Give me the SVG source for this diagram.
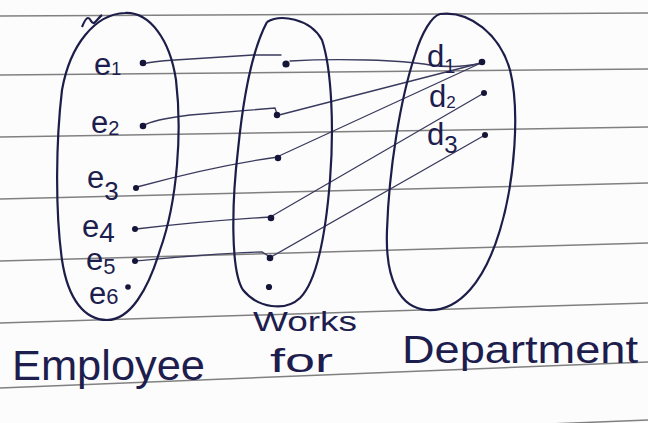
<svg xmlns="http://www.w3.org/2000/svg" width="648" height="423" viewBox="0 0 648 423">
<style>
.rule{stroke:#808080;stroke-width:1.5;fill:none}
.oval{stroke:#1d1d4a;stroke-width:2.2;fill:none;stroke-linejoin:round}
.edge{stroke:#3a3a5e;stroke-width:1.3;fill:none;stroke-linecap:round}
.dot{fill:#15153a}
.lbl{font-family:"Liberation Sans",Arial,sans-serif;fill:#1d1d4e;font-size:31px}
.ttl{font-family:"Liberation Sans",Arial,sans-serif;fill:#1d1d4e}
</style>
<rect width="648" height="423" fill="#fcfcfc"/>
<g id="paper">
<line class="rule" x1="0" y1="16" x2="648" y2="13"/>
<line class="rule" x1="0" y1="75" x2="648" y2="69"/>
<line class="rule" x1="0" y1="137" x2="648" y2="127"/>
<line class="rule" x1="0" y1="199" x2="648" y2="183"/>
<line class="rule" x1="0" y1="261" x2="648" y2="243"/>
<line class="rule" x1="0" y1="323" x2="648" y2="303"/>
<line class="rule" x1="0" y1="388" x2="648" y2="362"/>
<line class="rule" x1="400" y1="430" x2="648" y2="420"/>
</g>
<g id="connectors">
<path class="edge" d="M143 64 C150 62 160 61 175 60 L253 55 L281 55"/>
<path class="edge" d="M290 61 C340 58 400 60 430 65 C450 68 470 66 481 63"/>
<path class="edge" d="M143 126 C150 121 165 118 190 115 L275 108 L277 114"/>
<path class="edge" d="M279 115 L481 63"/>
<path class="edge" d="M137 187 C170 178 220 165 278 157"/>
<path class="edge" d="M279 156 L481 63"/>
<path class="edge" d="M136 229 C170 225 220 220 271 217"/>
<path class="edge" d="M272 216 L484 93"/>
<path class="edge" d="M136 261 C170 258 230 252 262 252 L270 257"/>
<path class="edge" d="M271 257 L485 135"/>
</g>
<g id="employee">
<path class="oval" d="M125 13 C150 12 170 40 176 80 C182 130 178 200 160 250 C148 290 130 320 107 320 C85 320 68 300 62 260 C55 210 56 140 62 90 C70 45 95 14 125 13"/>
<path class="oval" d="M82 27 C84 22 86 18 88 18 C91 18 91 24 94 23 C97 21 99 17 102 15"/>
<text class="ttl" x="12" y="380" font-size="42" textLength="193" lengthAdjust="spacingAndGlyphs">Employee</text>
</g>
<g id="e1"><circle class="dot" cx="143" cy="63" r="3.3"/><text class="lbl" x="94" y="75">e<tspan font-size="18">1</tspan></text></g>
<g id="e2"><circle class="dot" cx="143" cy="126" r="3.3"/><text class="lbl" x="91" y="133">e<tspan font-size="20" dy="2">2</tspan></text></g>
<g id="e3"><circle class="dot" cx="136" cy="188" r="3"/><text class="lbl" x="87" y="188">e<tspan font-size="26" dy="12">3</tspan></text></g>
<g id="e4"><circle class="dot" cx="135" cy="229" r="3"/><text class="lbl" x="82" y="237">e<tspan font-size="28" dy="5">4</tspan></text></g>
<g id="e5"><circle class="dot" cx="135" cy="261" r="3"/><text class="lbl" x="86" y="270">e<tspan font-size="22" dy="4">5</tspan></text></g>
<g id="e6"><circle class="dot" cx="128" cy="287" r="2.8"/><text class="lbl" x="89" y="304" font-size="26">e<tspan font-size="22">6</tspan></text></g>
<g id="works-for">
<path class="oval" d="M267 22 C280 14 310 18 322 40 C332 70 334 130 330 180 C326 230 318 280 300 298 C285 312 258 308 243 290 C230 270 232 200 238 150 C243 100 252 50 267 22"/>
<text class="ttl" x="253" y="331" font-size="28" textLength="104" lengthAdjust="spacingAndGlyphs">Works</text>
<text class="ttl" x="270" y="372" font-size="33" textLength="63" lengthAdjust="spacingAndGlyphs">for</text>
</g>
<g id="w1"><circle class="dot" cx="286" cy="64" r="3.6"/></g>
<g id="w2"><circle class="dot" cx="277" cy="115" r="3.2"/></g>
<g id="w3"><circle class="dot" cx="278" cy="158" r="3.2"/></g>
<g id="w4"><circle class="dot" cx="271" cy="218" r="3.3"/></g>
<g id="w5"><circle class="dot" cx="270" cy="258" r="3.3"/></g>
<g id="w6"><circle class="dot" cx="269" cy="287" r="3.1"/></g>
<g id="department">
<path class="oval" d="M440 14 C470 10 500 35 510 70 C520 110 515 180 500 230 C485 280 460 312 427 310 C400 308 385 280 387 230 C389 170 400 100 415 55 C422 32 432 16 440 14"/>
<text class="ttl" x="402" y="363" font-size="38" textLength="236" lengthAdjust="spacingAndGlyphs">Department</text>
</g>
<g id="d1"><circle class="dot" cx="482" cy="62" r="3.3"/><text class="lbl" x="427" y="67" font-size="30">d<tspan font-size="20" dy="6">1</tspan></text></g>
<g id="d2"><circle class="dot" cx="484" cy="93" r="3"/><text class="lbl" x="429" y="107" font-size="30">d<tspan font-size="17" dy="1">2</tspan></text></g>
<g id="d3"><circle class="dot" cx="485" cy="135" r="3"/><text class="lbl" x="427" y="145" font-size="30">d<tspan font-size="24" dy="8">3</tspan></text></g>
</svg>
